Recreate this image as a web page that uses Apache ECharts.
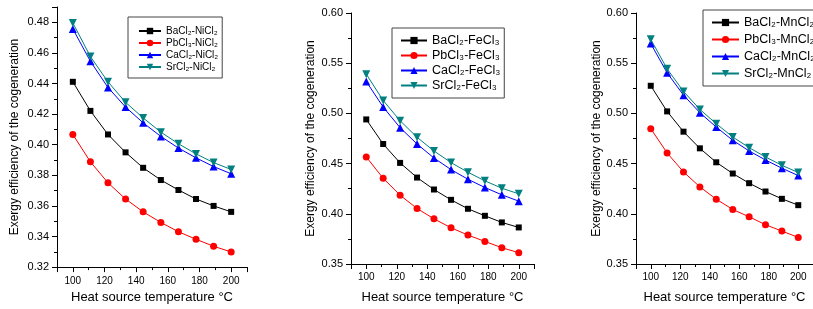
<!DOCTYPE html>
<html lang="en">

<head>
    <meta charset="utf-8">
    <title>Exergy efficiency of the cogeneration</title>
    <script type="text/javascript" src="https://cdn.jsdelivr.net/npm/echarts@6/dist/echarts.min.js"></script>
    <style>
        html, body { margin: 0; padding: 0; background: #fff; }
        #chart { width: 813px; height: 309px; }
    </style>
</head>

<body>
    <div id="chart"></div>

    <script>
        // heat source temperature (°C), 10 points between 100 and 200
        const temps = [100, 111.1, 122.2, 133.3, 144.4, 155.6, 166.7, 177.8, 188.9, 200];

        // panel 1: NiCl2 pairs
        const ni_names = ['BaCl₂-NiCl₂', 'PbCl₃-NiCl₂', 'CaCl₂-NiCl₂', 'SrCl₂-NiCl₂'];
        const ni_Ba = [0.4411, 0.4221, 0.4067, 0.3950, 0.3849, 0.3769, 0.3704, 0.3645, 0.3600, 0.3561];
        const ni_Pb = [0.4067, 0.3888, 0.3751, 0.3645, 0.3561, 0.3492, 0.3431, 0.3382, 0.3336, 0.3299];
        const ni_Ca = [0.4757, 0.4545, 0.4374, 0.4246, 0.4143, 0.4054, 0.3978, 0.3914, 0.3857, 0.3810];
        const ni_Sr = [0.4796, 0.4576, 0.4411, 0.4277, 0.4175, 0.4082, 0.4006, 0.3940, 0.3883, 0.3838];

        // panel 2: FeCl3 pairs
        const fe_names = ['BaCl₂-FeCl₃', 'PbCl₃-FeCl₃', 'CaCl₂-FeCl₃', 'SrCl₂-FeCl₃'];
        const fe_Ba = [0.4940, 0.4695, 0.4507, 0.4361, 0.4242, 0.4139, 0.4050, 0.3980, 0.3914, 0.3864];
        const fe_Pb = [0.4566, 0.4354, 0.4185, 0.4053, 0.3950, 0.3861, 0.3788, 0.3725, 0.3662, 0.3613];
        const fe_Ca = [0.5318, 0.5063, 0.4858, 0.4695, 0.4556, 0.4440, 0.4344, 0.4262, 0.4189, 0.4126];
        const fe_Sr = [0.5391, 0.5129, 0.4927, 0.4762, 0.4626, 0.4510, 0.4414, 0.4328, 0.4255, 0.4199];

        // panel 3: MnCl2 pairs
        const mn_names = ['BaCl₂-MnCl₂', 'PbCl₃-MnCl₂', 'CaCl₂-MnCl₂', 'SrCl₂-MnCl₂'];
        const mn_Ba = [0.5275, 0.5020, 0.4818, 0.4652, 0.4513, 0.4401, 0.4305, 0.4222, 0.4149, 0.4086];
        const mn_Pb = [0.4848, 0.4606, 0.4417, 0.4268, 0.4146, 0.4043, 0.3970, 0.3891, 0.3828, 0.3765];
        const mn_Ca = [0.5695, 0.5404, 0.5182, 0.5007, 0.4864, 0.4732, 0.4626, 0.4536, 0.4454, 0.4381];
        const mn_Sr = [0.5738, 0.5444, 0.5219, 0.5040, 0.4897, 0.4765, 0.4659, 0.4566, 0.4483, 0.4411];

        const FONT = '"Liberation Sans", Arial, sans-serif';
        const colors = ['#000000', '#ff0000', '#0000ff', '#008080'];
        const symbols = ['rect', 'circle', 'triangle', 'triangle'];
        const symbolSizes = [6, 7, 8, 8];
        const symbolRotates = [0, 0, 0, 180];

        const chart = echarts.init(document.getElementById('chart'));

        function xAxisFor(idx, nameGap, labelMargin) {
            return {
                gridIndex: idx,
                type: 'value',
                min: 90,
                max: 210,
                splitNumber: 6,
                name: 'Heat source temperature °C',
                nameLocation: 'middle',
                nameGap: nameGap,
                nameTextStyle: { fontFamily: FONT, fontSize: 13, color: '#000' },
                axisLine: { show: true, onZero: false, lineStyle: { color: '#000', width: 1 } },
                axisTick: { show: true, length: 5, lineStyle: { color: '#000' } },
                minorTick: { show: true, splitNumber: 2, length: 3, lineStyle: { color: '#000' } },
                axisLabel: {
                    fontFamily: FONT, fontSize: 10, color: '#000', margin: labelMargin,
                    showMinLabel: false, showMaxLabel: false
                },
                splitLine: { show: false }
            };
        }

        function yAxisFor(idx, min, max, interval, nameGap, showMax) {
            return {
                gridIndex: idx,
                type: 'value',
                min: min,
                max: max,
                interval: interval,
                name: 'Exergy efficiency of the cogeneration',
                nameLocation: 'middle',
                nameGap: nameGap,
                nameTextStyle: { fontFamily: FONT, fontSize: 12, color: '#000' },
                axisLine: { show: true, lineStyle: { color: '#000', width: 1 } },
                axisTick: { show: true, length: 5, lineStyle: { color: '#000' } },
                minorTick: { show: true, splitNumber: 2, length: 3, lineStyle: { color: '#000' } },
                axisLabel: {
                    fontFamily: FONT, fontSize: 11, color: '#000', margin: 8,
                    showMaxLabel: showMax,
                    formatter: function (v) { return v.toFixed(2); }
                },
                splitLine: { show: false }
            };
        }

        function seriesFor(idx, names, arrays) {
            return arrays.map(function (arr, i) {
                return {
                    name: names[i],
                    type: 'line',
                    xAxisIndex: idx,
                    yAxisIndex: idx,
                    data: temps.map(function (t, k) { return [t, arr[k]]; }),
                    symbol: symbols[i],
                    symbolSize: symbolSizes[i],
                    symbolRotate: symbolRotates[i],
                    showAllSymbol: true,
                    color: colors[i],
                    itemStyle: { color: colors[i] },
                    lineStyle: { color: colors[i], width: 1 }
                };
            });
        }

        function legendFor(names, left, top, fontSize, itemWidth, itemHeight, itemGap, padding) {
            return {
                data: names,
                orient: 'vertical',
                left: left,
                top: top,
                padding: padding,
                itemWidth: itemWidth,
                itemHeight: itemHeight,
                itemGap: itemGap,
                backgroundColor: '#fff',
                borderColor: '#444',
                borderWidth: 1,
                borderRadius: 0,
                textStyle: { fontFamily: FONT, fontSize: fontSize, color: '#000' }
            };
        }

        const option = {
            animation: false,
            backgroundColor: '#fff',
            grid: [
                { left: 57, top: 7, width: 190, height: 262 },
                { left: 351, top: 13, width: 183, height: 251 },
                { left: 636, top: 13, width: 182, height: 251 }
            ],
            xAxis: [
                xAxisFor(0, 22, 9),
                xAxisFor(1, 27, 8),
                xAxisFor(2, 27, 8)
            ],
            yAxis: [
                yAxisFor(0, 0.32, 0.49, 0.02, 36, false),
                yAxisFor(1, 0.35, 0.60, 0.05, 34, true),
                yAxisFor(2, 0.35, 0.60, 0.05, 33, true)
            ],
            legend: [
                legendFor(ni_names, 128, 17, 10, 22, 8, 2, [9, 4, 6, 10]),
                legendFor(fe_names, 392, 28, 12.5, 26, 9, 2, [6, 4, 6, 8]),
                legendFor(mn_names, 703, 10, 12.5, 27, 9, 4, [6, 4, 6, 8])
            ],
            series: []
                .concat(seriesFor(0, ni_names, [ni_Ba, ni_Pb, ni_Ca, ni_Sr]))
                .concat(seriesFor(1, fe_names, [fe_Ba, fe_Pb, fe_Ca, fe_Sr]))
                .concat(seriesFor(2, mn_names, [mn_Ba, mn_Pb, mn_Ca, mn_Sr]))
        };

        chart.setOption(option);
    </script>
</body>

</html>
